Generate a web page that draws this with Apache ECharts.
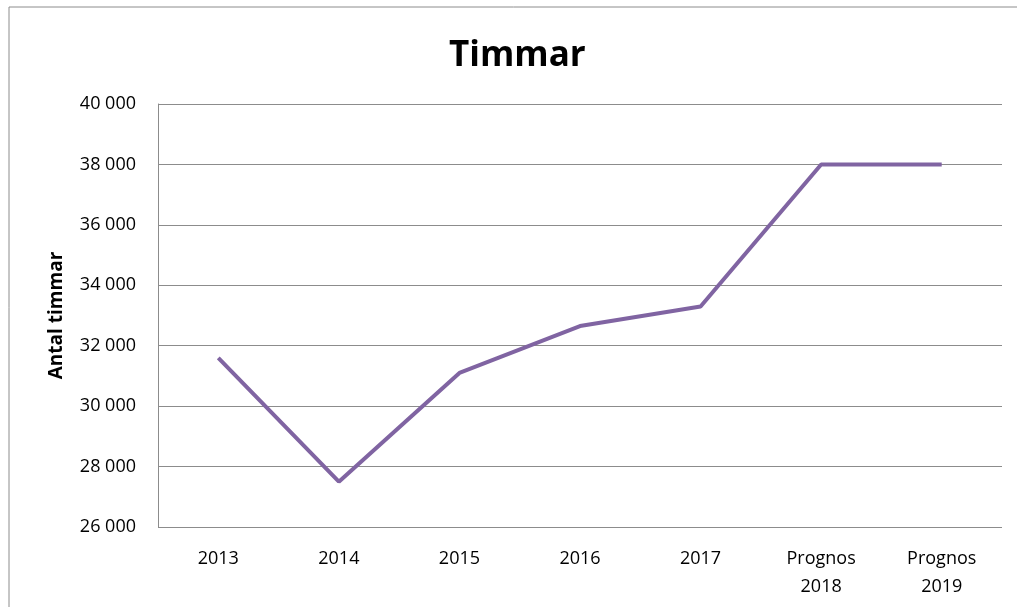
<!DOCTYPE html>
<html lang="sv">
<head>
<meta charset="UTF-8">
<title>Timmar</title>
<script src="https://cdn.jsdelivr.net/npm/echarts@6/dist/echarts.min.js"></script>
<style>
  html, body { margin: 0; padding: 0; background: #fff; }
  #main { width: 1017px; height: 607px; }
</style>
</head>
<body>
<div id="main"></div>
<script>
// kategorier och värden
const categories = ['2013', '2014', '2015', '2016', '2017', 'Prognos\n2018', 'Prognos\n2019'];
const hours = [31600, 27500, 31100, 32650, 33300, 38000, 38000];
const yTicks = { min: 26000, max: 40000, step: 2000 };

let chart = echarts.init(document.getElementById('main'));
const font = '"Open Sans", "DejaVu Sans", sans-serif';

let option = {
  animation: false,
  backgroundColor: '#fff',
  title: {
    text: 'Timmar',
    left: 444,
    top: 34,
    textStyle: { fontFamily: font, fontSize: 35, fontWeight: 'bold', color: '#000' }
  },
  graphic: [{
    type: 'rect',
    shape: { x: 9, y: 7, width: 1020, height: 620 },
    style: { fill: 'none', stroke: '#8c8c8c', lineWidth: 1 },
    silent: true
  }],
  grid: { left: 158, right: 15, top: 104, bottom: 80 },
  xAxis: {
    type: 'category',
    data: categories,
    boundaryGap: true,
    axisLine: { show: false },
    axisTick: { show: false },
    axisLabel: { fontFamily: font, fontSize: 18, color: '#000', margin: 18, lineHeight: 28 }
  },
  yAxis: {
    type: 'value',
    min: yTicks.min,
    max: yTicks.max,
    interval: yTicks.step,
    name: 'Antal timmar',
    nameLocation: 'middle',
    nameGap: 92,
    nameRotate: 90,
    nameTextStyle: { fontFamily: font, fontSize: 19, fontWeight: 'bold', color: '#000' },
    axisLine: { show: true, lineStyle: { color: '#8c8c8c', width: 1 } },
    axisTick: { show: false },
    splitLine: { lineStyle: { color: '#8c8c8c', width: 1 } },
    axisLabel: {
      fontFamily: font, fontSize: 18, color: '#000', margin: 22,
      formatter: v => String(v).replace(/\B(?=(\d{3})+(?!\d))/g, ' ')
    }
  },
  series: [{
    type: 'line',
    data: hours,
    symbol: 'none',
    lineStyle: { color: '#8064a2', width: 4 },
    itemStyle: { color: '#8064a2' }
  }]
};

option && chart.setOption(option);
</script>
</body>
</html>
